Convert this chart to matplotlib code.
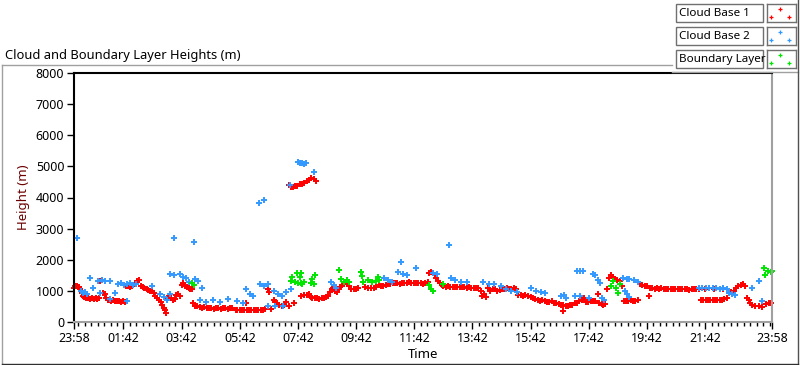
import matplotlib
matplotlib.use("Agg")
import matplotlib.pyplot as plt
from matplotlib.lines import Line2D
from matplotlib.patches import Rectangle

# (hours after 23:58, height in m)
cloud_base_1 = [
    (0.00, 1100), (0.05, 1150), (0.10, 1170), (0.16, 1140), (0.21, 1060), (0.26, 940),
    (0.31, 850), (0.36, 790), (0.42, 770), (0.48, 760), (0.55, 750), (0.62, 770),
    (0.68, 740), (0.75, 760), (0.80, 750), (0.86, 770), (0.90, 1330), (0.95, 1340),
    (1.00, 930), (1.05, 910), (1.10, 760), (1.16, 720), (1.22, 700), (1.28, 690),
    (1.35, 710), (1.42, 690), (1.48, 670), (1.55, 660), (1.62, 650), (1.70, 660),
    (1.76, 640), (1.80, 1150), (1.86, 1170), (1.92, 1120), (1.98, 1150), (2.04, 1180),
    (2.10, 1260), (2.16, 1330), (2.22, 1360), (2.30, 1150), (2.36, 1130), (2.42, 1080),
    (2.50, 1050), (2.56, 1040), (2.62, 990), (2.68, 980), (2.74, 920), (2.80, 850),
    (2.86, 760), (2.92, 700), (2.98, 640), (3.03, 560), (3.08, 460), (3.12, 380),
    (3.16, 300), (3.22, 760), (3.28, 820), (3.34, 760), (3.40, 700), (3.46, 730),
    (3.52, 860), (3.58, 900), (3.64, 820), (3.70, 1200), (3.76, 1250), (3.82, 1170),
    (3.88, 1110), (3.94, 1080), (4.00, 1060), (4.06, 1070), (4.10, 600), (4.16, 520),
    (4.24, 500), (4.32, 480), (4.40, 460), (4.48, 470), (4.56, 450), (4.64, 460),
    (4.72, 440), (4.80, 430), (4.88, 440), (4.96, 450), (5.04, 420), (5.12, 440),
    (5.20, 450), (5.28, 430), (5.36, 440), (5.44, 450), (5.56, 400), (5.62, 380),
    (5.70, 400), (5.78, 390), (5.86, 380), (5.90, 620), (5.94, 370), (6.02, 380),
    (6.10, 400), (6.18, 380), (6.26, 370), (6.34, 390), (6.42, 400), (6.50, 380),
    (6.58, 410), (6.66, 1050), (6.72, 960), (6.78, 430), (6.86, 700), (6.92, 650),
    (6.98, 600), (7.06, 550), (7.14, 520), (7.22, 560), (7.30, 630), (7.40, 520),
    (7.55, 620), (7.38, 4400), (7.45, 4340), (7.52, 4330), (7.60, 4370), (7.68, 4380),
    (7.76, 4420), (7.84, 4440), (7.92, 4480), (8.00, 4520), (8.08, 4560), (8.16, 4620),
    (8.24, 4580), (8.32, 4540), (7.80, 850), (7.90, 860), (8.00, 880), (8.07, 910),
    (8.14, 800), (8.20, 780), (8.28, 760), (8.36, 780), (8.44, 750), (8.52, 760),
    (8.60, 770), (8.68, 790), (8.75, 840), (8.80, 950), (8.86, 1050), (8.92, 1100),
    (8.98, 1000), (9.04, 950), (9.10, 1050), (9.16, 1120), (9.22, 1200), (9.30, 1220),
    (9.38, 1230), (9.46, 1150), (9.54, 1060), (9.62, 1050), (9.70, 1060), (9.78, 1080),
    (10.02, 1110), (10.10, 1100), (10.20, 1080), (10.30, 1090), (10.40, 1110),
    (10.48, 1180), (10.56, 1150), (10.64, 1170), (10.72, 1200), (10.80, 1210),
    (10.88, 1230), (10.96, 1250), (11.04, 1240), (11.12, 1260), (11.20, 1230),
    (11.28, 1250), (11.36, 1240), (11.44, 1250), (11.52, 1270), (11.60, 1260),
    (11.68, 1250), (11.76, 1240), (11.84, 1260), (11.92, 1250), (12.00, 1230),
    (12.08, 1240), (12.16, 1300), (12.22, 1560), (12.28, 1600), (12.34, 1570),
    (12.40, 1500), (12.46, 1420), (12.52, 1330), (12.58, 1250), (12.64, 1200),
    (12.70, 1170), (12.78, 1140), (12.86, 1150), (12.94, 1130), (13.02, 1120),
    (13.10, 1130), (13.18, 1120), (13.26, 1140), (13.34, 1120), (13.42, 1110),
    (13.50, 1100), (13.58, 1120), (13.66, 1100), (13.74, 1100), (13.82, 1090),
    (13.90, 1100), (13.98, 1000), (14.04, 850), (14.10, 900), (14.16, 800),
    (14.24, 1080), (14.32, 1010), (14.40, 1050), (14.48, 1060), (14.56, 1010),
    (14.64, 1040), (14.72, 1070), (14.80, 1060), (14.88, 1080), (14.96, 1070),
    (15.04, 1060), (15.12, 1080), (15.20, 1070), (15.28, 870), (15.36, 860),
    (15.44, 850), (15.52, 870), (15.60, 840), (15.70, 790), (15.78, 760), (15.86, 740),
    (15.94, 700), (16.02, 680), (16.10, 700), (16.18, 660), (16.26, 650), (16.34, 640),
    (16.42, 660), (16.50, 620), (16.58, 600), (16.66, 580), (16.74, 560), (16.80, 360),
    (16.82, 540), (16.90, 530), (16.98, 520), (17.06, 540), (17.14, 550), (17.22, 600),
    (17.30, 620), (17.38, 660), (17.46, 700), (17.52, 780), (17.60, 650), (17.68, 640),
    (17.76, 660), (17.84, 680), (17.92, 690), (18.00, 910), (18.06, 620), (18.14, 580),
    (18.20, 560), (18.26, 580), (18.32, 1070), (18.40, 1400), (18.48, 1500),
    (18.54, 1450), (18.60, 1380), (18.68, 1340), (18.76, 1330), (18.84, 1170),
    (18.90, 680), (18.98, 690), (19.06, 680), (19.14, 700), (19.22, 690), (19.30, 680),
    (19.38, 700), (19.46, 1230), (19.54, 1200), (19.62, 1170), (19.70, 1150),
    (19.76, 850), (19.80, 1100), (19.88, 1080), (19.96, 1070), (20.04, 1080),
    (20.12, 1070), (20.20, 1080), (20.28, 1070), (20.36, 1060), (20.44, 1070),
    (20.52, 1060), (20.60, 1070), (20.68, 1060), (20.76, 1070), (20.84, 1050),
    (20.92, 1060), (21.00, 1070), (21.08, 1060), (21.16, 1040), (21.24, 1060),
    (21.32, 1070), (21.40, 1050), (21.48, 1070), (21.70, 1060), (22.00, 1070),
    (22.30, 1050), (21.56, 720), (21.64, 710), (21.72, 720), (21.80, 700), (21.88, 720),
    (21.96, 710), (22.04, 720), (22.12, 700), (22.20, 710), (22.28, 720), (22.36, 730),
    (22.44, 760), (22.52, 930), (22.60, 950), (22.68, 1000), (22.76, 1080),
    (22.84, 1150), (22.92, 1200), (23.00, 1220), (23.08, 1150), (23.14, 780),
    (23.20, 700), (23.26, 600), (23.32, 560), (23.40, 530), (23.55, 520), (23.65, 480),
    (23.80, 590), (23.88, 620), (23.96, 600),
]

cloud_base_2 = [
    (0.10, 2700), (0.25, 990), (0.30, 920), (0.38, 960), (0.45, 900), (0.55, 1400),
    (0.66, 1100), (0.83, 1330), (0.95, 1340), (1.07, 1330), (1.24, 1320), (0.90, 940),
    (1.24, 750), (1.41, 940), (1.52, 1230), (1.62, 1250), (1.72, 1200), (1.82, 1230),
    (1.93, 1240), (2.03, 1180), (2.14, 1220), (1.83, 680), (2.69, 1170), (2.97, 900),
    (3.10, 800), (3.21, 700), (3.31, 900), (3.31, 1550), (3.45, 1500), (3.45, 2700),
    (3.66, 1530), (3.76, 1450), (3.86, 1400), (3.97, 1300), (4.07, 1250), (4.14, 2570),
    (4.17, 1380), (4.28, 1320), (4.41, 1100), (4.34, 700), (4.55, 650), (4.79, 720),
    (5.03, 650), (5.30, 750), (5.60, 680), (5.80, 620), (5.93, 1070), (6.05, 900),
    (6.17, 850), (6.41, 1230), (6.52, 1150), (6.66, 1230), (6.86, 1000), (7.00, 900),
    (7.15, 850), (7.30, 950), (7.45, 1050), (6.66, 520), (6.90, 520), (7.20, 520),
    (6.35, 3835), (6.55, 3930), (7.41, 4390), (7.69, 5130), (7.76, 5110), (7.83, 5100),
    (7.90, 5090), (7.97, 5100), (8.24, 4810), (8.83, 1300), (8.93, 1200), (9.00, 1100),
    (10.66, 1400), (10.80, 1350), (10.95, 1300), (11.24, 1920), (11.14, 1600),
    (11.30, 1550), (11.45, 1500), (11.76, 1750), (12.34, 1580), (12.48, 1550),
    (12.90, 2470), (12.97, 1400), (13.10, 1350), (13.30, 1300), (13.50, 1270),
    (14.07, 1270), (14.28, 1230), (14.45, 1230), (14.69, 1150), (14.85, 1050),
    (15.03, 1000), (15.24, 950), (15.72, 1080), (15.90, 1000), (16.07, 950),
    (16.20, 920), (16.75, 850), (16.90, 780), (16.85, 870), (17.28, 1650), (17.40, 1650),
    (17.50, 1640), (17.21, 850), (17.40, 830), (17.72, 780), (17.83, 1550), (17.93, 1500),
    (18.00, 1350), (18.07, 1250), (18.14, 780), (18.24, 700), (18.86, 1400),
    (19.00, 1380), (19.10, 1370), (19.24, 1340), (18.93, 1000), (19.10, 800),
    (19.00, 900), (19.40, 1300), (21.48, 1100), (21.60, 1090), (21.72, 1080),
    (21.84, 1100), (21.96, 1080), (22.08, 1090), (22.20, 1070), (22.32, 1080),
    (22.44, 1060), (22.52, 940), (22.64, 900), (22.72, 880), (23.31, 1100),
    (23.55, 1330), (23.66, 690),
]

boundary_layer = [
    (4.07, 1250), (4.14, 1200), (7.45, 1330), (7.48, 1450), (7.60, 1280), (7.66, 1560),
    (7.70, 1260), (7.76, 1450), (7.80, 1250), (7.83, 1220), (7.79, 1560), (7.90, 1270),
    (8.14, 1250), (8.20, 1380), (8.24, 1230), (8.28, 1500), (9.10, 1660), (9.17, 1380),
    (9.28, 1300), (9.38, 1350), (9.45, 1280), (9.86, 1600), (9.90, 1480), (9.93, 1300),
    (10.10, 1350), (10.24, 1300), (10.38, 1320), (10.45, 1430), (10.50, 1350),
    (12.20, 1200), (12.28, 1050), (12.34, 1000), (12.69, 1230), (18.48, 1170),
    (18.55, 1330), (18.62, 1100), (18.72, 940), (18.76, 1230), (23.72, 1720),
    (23.76, 1500), (23.85, 1650), (23.95, 1620), (24.00, 1640),
]

series_names = ["Cloud Base 1", "Cloud Base 2", "Boundary Layer"]
series_colors = ["#ff0000", "#3399ff", "#00e600"]

y_ticks = [0, 1000, 2000, 3000, 4000, 5000, 6000, 7000, 8000]
x_tick_hours = [0] + [1 + 42 / 60 + 2 * k for k in range(11)] + [24]
x_tick_labels = ["23:58"] + ["%02d:42" % (1 + 2 * k) for k in range(11)] + ["23:58"]

plt.rcParams["font.family"] = ["Noto Sans", "DejaVu Sans"]
W, H = 800, 365
fig = plt.figure(figsize=(W / 100, H / 100), dpi=100, facecolor="white")


def fx(x):
    return x / W


def fy(y):
    return 1 - y / H


def fig_line(xs, ys, color, lw=1.0):
    fig.add_artist(Line2D([fx(v) for v in xs], [fy(v) for v in ys],
                          color=color, lw=lw, transform=fig.transFigure))


# outer frame
fig_line([2, 2], [65, 364], "#a0a0a0")
fig_line([2, 672], [65, 65], "#a0a0a0")
fig_line([672, 798], [72, 72], "#a0a0a0")
fig_line([798, 798], [0, 364], "#505050")
fig_line([2, 798], [364, 364], "#303030")

fig.text(fx(5), fy(59), "Cloud and Boundary Layer Heights (m)", fontsize=9.3,
         ha="left", va="baseline", color="black")

ax = fig.add_axes([fx(74), fy(322), fx(772) - fx(74), fy(73) - fy(322)])
for data, color in zip([cloud_base_1, cloud_base_2, boundary_layer], series_colors):
    t = [p[0] for p in data]
    h = [p[1] for p in data]
    ax.plot(t, h, linestyle="none", marker="+", ms=4.2, mew=1.4, color=color,
            clip_on=False)

ax.set_xlim(0, 24)
ax.set_ylim(0, 8000)
ax.set_yticks(y_ticks)
ax.set_yticklabels([str(v) for v in y_ticks])
ax.set_xticks(x_tick_hours)
ax.set_xticklabels(x_tick_labels)
minor = []
step = 2 / 9
v = x_tick_hours[1] - step
while v > 0.05:
    minor.append(v)
    v -= step
v = x_tick_hours[1]
while v < 23.95:
    if all(abs(v - m) > 0.01 for m in x_tick_hours):
        minor.append(v)
    v += step
ax.set_xticks(minor, minor=True)
ax.tick_params(axis="both", which="major", labelsize=9, length=5, width=1,
               color="black", pad=2)
ax.tick_params(axis="x", which="minor", length=3, width=1, color="black")
ax.tick_params(axis="y", which="minor", left=False)

ax.spines["left"].set_color("black")
ax.spines["top"].set_color("black")
ax.spines["right"].set_color("#a0a0a0")
ax.spines["bottom"].set_color("#a0a0a0")
for s in ax.spines.values():
    s.set_linewidth(1.5)

ax.set_xlabel("Time", fontsize=9.5, labelpad=2, color="black")
ax.set_ylabel("Height (m)", fontsize=9.5, labelpad=4, color="#6b0000")

# legend panel
entry_tops = [4, 27, 50]
for name, color, top in zip(series_names, series_colors, entry_tops):
    fig.add_artist(Rectangle((fx(676), fy(top + 18)), fx(87), 18 / H,
                             transform=fig.transFigure, fc="white", ec="#707070", lw=1))
    fig.text(fx(679), fy(top + 9.5), name, fontsize=8.4, ha="left", va="center",
             color="black")
    sw = fig.add_axes([fx(767), fy(top + 18), fx(29), 18 / H])
    sw.set_xlim(0, 1)
    sw.set_ylim(1, 0)
    sw.set_xticks([])
    sw.set_yticks([])
    for s in sw.spines.values():
        s.set_color("#707070")
        s.set_linewidth(1)
    sw.plot([0.45, 0.14, 0.76], [0.3, 0.72, 0.72], linestyle="none", marker="+",
            ms=3.2, mew=0.9, color=color, clip_on=False)

fig.savefig("out.png", dpi=100, facecolor="white")
